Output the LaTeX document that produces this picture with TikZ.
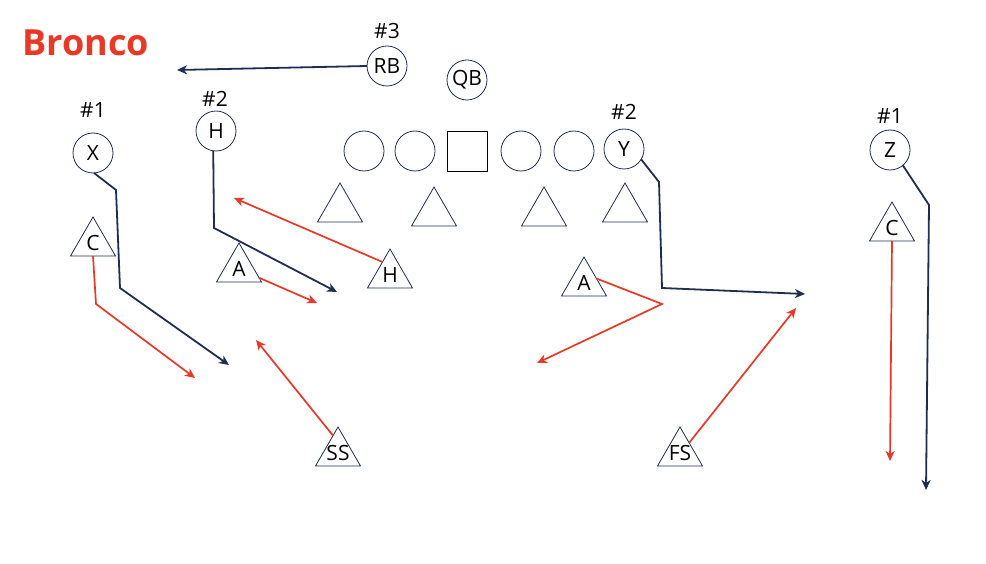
\documentclass[tikz,border=0pt]{standalone}
\usepackage{fontspec}
\setmainfont{Open Sans}
\usetikzlibrary{arrows.meta,shapes.geometric}

\definecolor{navy}{RGB}{31,45,80}
\definecolor{bred}{RGB}{234,56,38}

\begin{document}
\begin{tikzpicture}[x=1pt,y=-1pt,
    every node/.style={font=\fontsize{21}{21}\selectfont},
    off/.style={circle,draw=navy,line width=0.8pt,minimum size=40pt,inner sep=0pt,outer sep=0pt},
    ctr/.style={rectangle,draw=black,line width=0.8pt,minimum size=40pt,inner sep=0pt,outer sep=0pt},
    dl/.style={regular polygon,regular polygon sides=3,draw=navy,line width=0.8pt,minimum size=52pt,inner sep=0pt,outer sep=0pt},
    def/.style={dl,label={center:#1}},
    num/.style={anchor=base},
    route/.style={draw=navy,line width=1.8pt,-{Stealth[length=10pt,width=9pt,inset=3pt]}},
    cover/.style={draw=bred,line width=1.7pt,-{Stealth[length=10pt,width=9pt,inset=3pt]}}]
      \useasboundingbox (0,0) rectangle (986,564);

      % Title
      \node[anchor=base west,text=bred,font=\fontsize{36}{36}\selectfont\bfseries] (title) at (19,56) {Bronco};

      % Offense
      \node[off] (RB) at (387,66) {RB};
      \node[off] (QB) at (467,80) {QB};
      \node[off] (X) at (93,153) {X};
      \node[off] (H) at (216,131) {H};
      \node[off] (LT) at (364,151) {};
      \node[off] (LG) at (415,151) {};
      \node[ctr] (C) at (467,151) {};
      \node[off] (RG) at (521,151) {};
      \node[off] (RT) at (574,151) {};
      \node[off] (Y) at (624,149) {Y};
      \node[off] (Z) at (890,150) {Z};

      % Receiver numbers
      \node[num] (nRB) at (387,39) {\#3};
      \node[num] (nX) at (93,118) {\#1};
      \node[num] (nH) at (215,107) {\#2};
      \node[num] (nY) at (624,120) {\#2};
      \node[num] (nZ) at (890,124) {\#1};

      % Defense
      \node[dl] (DE1) at (340,209) {};
      \node[dl] (DT1) at (434,213) {};
      \node[dl] (DT2) at (544,213) {};
      \node[dl] (DE2) at (625,209) {};
      \node[def=C] (CL) at (93,243) {};
      \node[def=A] (AL) at (239,269) {};
      \node[def=H] (HD) at (390,275) {};
      \node[def=A] (AR) at (584,283) {};
      \node[def=SS] (SS) at (338,453) {};
      \node[def=FS] (FS) at (680,453) {};
      \node[def=C] (CR) at (892,228) {};

      % End points
      \coordinate (tRB) at (177,70);
      \coordinate (tX) at (229,365);
      \coordinate (tH) at (337,292);
      \coordinate (tY) at (805,294);
      \coordinate (tZ) at (926,490);
      \coordinate (tCL) at (195,378);
      \coordinate (tAL) at (317,303);
      \coordinate (tHD) at (234,198);
      \coordinate (tSS) at (256,340);
      \coordinate (tAR) at (537,363);
      \coordinate (tFS) at (796,308);
      \coordinate (tCR) at (890,461);

      % Routes
      \draw[route] (RB.west) -- (tRB);
      \draw[route] (X.-87) -- (116,190) -- (120,288) -- (tX);
      \draw[route] (H.-98) -- (214,228) -- (tH);
      \draw[route] (Y.-31) -- (659,182) -- (662,288) -- (tY);
      \draw[route] (Z.-50) -- (929,205) -- (tZ);

      % Coverage
      \draw[cover] (CL.south) -- (96,304) -- (tCL);
      \draw[cover] (AL) -- (tAL);
      \draw[cover] (HD.120) -- (tHD);
      \draw[cover] (SS.106) -- (tSS);
      \draw[cover] (AR.20) -- (662,304) -- (tAR);
      \draw[cover] (FS.48) -- (tFS);
      \draw[cover] (CR.south) -- (tCR);
    \end{tikzpicture}
\end{document}
